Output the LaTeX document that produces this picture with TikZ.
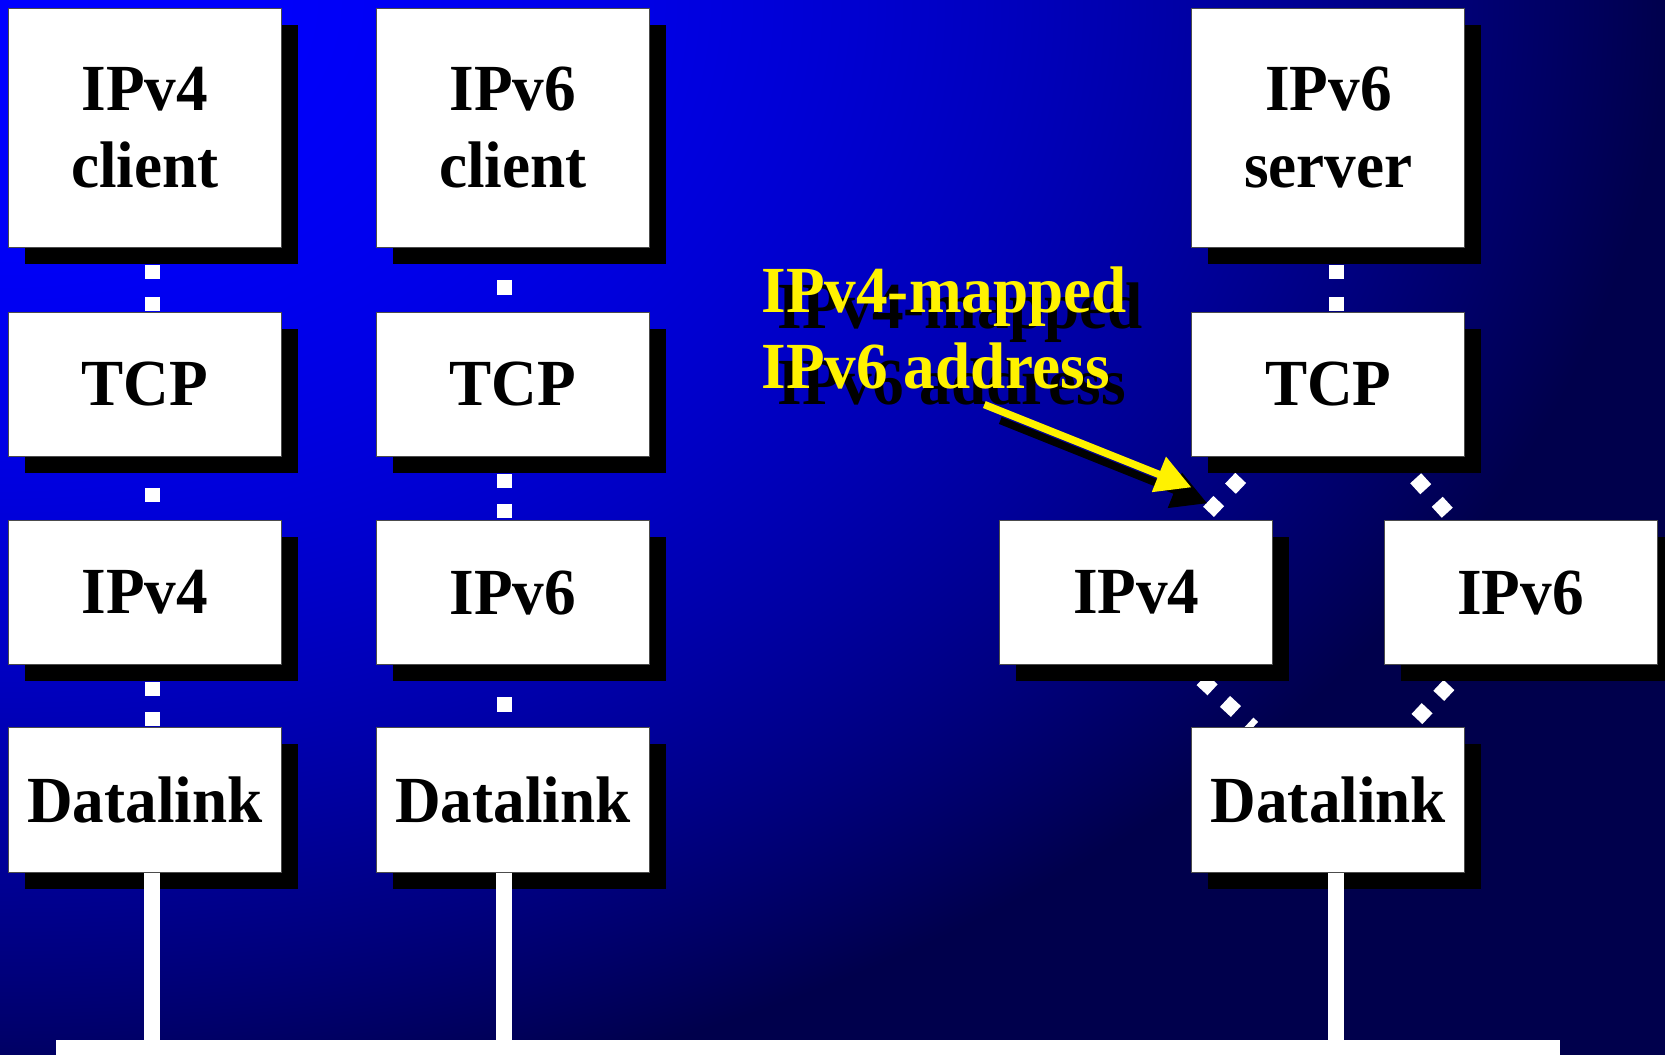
\documentclass[tikz,border=0pt]{standalone}
\usepackage{fontspec}
\setmainfont{Liberation Serif}[FakeStretch=0.96]
\usetikzlibrary{shadows,arrows.meta,calc,backgrounds}
\pgfdeclarefunctionalshading{bgshade}{\pgfpointorigin}{\pgfpoint{100bp}{100bp}}{}{
  75 exch sub 50 div dup mul 0.865 mul
  exch 25 sub 50 div dup mul add
  0.7 mul 1 exch sub
  dup 0.3 lt {pop 0.3} if
  dup 1 gt {pop 1} if
  0 0 3 -1 roll
}
\tikzset{
  layer/.style={draw=black!70, line width=1pt, fill=white, inner sep=0pt, align=center,
     font=\fontsize{62}{72.5}\selectfont\bfseries,
     drop shadow={shadow xshift=15.5pt, shadow yshift=-15.5pt, fill=black, opacity=1}},
  wide/.style={minimum width=257pt},
  tall/.style={minimum height=225pt},
  short/.style={minimum height=136pt},
  dots/.style={draw=white, line width=14pt},
  vline/.style={draw=white, line width=15pt},
  lbl/.style={font=\fontsize{62}{72.5}\selectfont\bfseries, inner sep=0pt, anchor=base west},
  pointer/.style={line width=7pt, -{Triangle[length=33pt,width=34pt]}},
}
\begin{document}
\begin{tikzpicture}[x=1pt, y=-1pt]
\useasboundingbox (0,0) rectangle (1568,993);
\begin{pgfonlayer}{background}
\shade[shading=bgshade] (0,0) rectangle (1568,993);
\end{pgfonlayer}

% left column
\node[layer,wide,tall]  (c1) at (136.5,120.5) {IPv4\\client};
\node[layer,wide,short] (t1) at (136.5,362) {TCP};
\node[layer,wide,short] (i1) at (136.5,558) {IPv4};
\node[layer,wide,short] (d1) at (136.5,753.5) {Datalink};
% middle column
\node[layer,wide,tall]  (c2) at (483,120.5) {IPv6\\client};
\node[layer,wide,short] (t2) at (483,362) {TCP};
\node[layer,wide,short] (i2) at (483,558) {IPv6};
\node[layer,wide,short] (d2) at (483,753.5) {Datalink};
% right stack
\node[layer,wide,tall]  (c3) at (1251,120.5) {IPv6\\server};
\node[layer,wide,short] (t3) at (1251,362) {TCP};
\node[layer,wide,short] (i3) at (1070,558) {IPv4};
\node[layer,wide,short] (i4) at (1432,558) {IPv6};
\node[layer,wide,short] (d3) at (1251,753.5) {Datalink};

% network bar
\node[fill=white, inner sep=0pt, minimum width=1416pt, minimum height=30pt, anchor=north west] (bar) at (53,979) {};
\draw[vline] ($(d1.south)+(7,0)$) coordinate (p1) -- (p1 |- bar.north);
\draw[vline] ($(d2.south)+(-8.5,0)$) coordinate (p2) -- (p2 |- bar.north);
\draw[vline] ($(d3.south)+(7.5,0)$) coordinate (p3) -- (p3 |- bar.north);

% dotted connectors
\begin{pgfonlayer}{background}
\draw[dots, dash pattern=on 13pt off 17pt, dash phase=14pt] ($(c1.south)+(7.5,0)$) -- ($(t1.north)+(7.5,0)$);
\draw[dots, dash pattern=on 13pt off 18pt, dash phase=2pt] ($(t1.south)+(7.5,0)$) -- ($(i1.north)+(7.5,0)$);
\draw[dots, dash pattern=on 13pt off 15pt, dash phase=12pt] ($(i1.south)+(7.5,0)$) -- ($(d1.north)+(7.5,0)$);
\draw[dots, dash pattern=on 14pt off 18pt, dash phase=2pt] ($(c2.south)+(-7.5,0)$) -- ($(t2.north)+(-7.5,0)$);
\draw[dots, dash pattern=on 13pt off 15pt, dash phase=12pt] ($(t2.south)+(-7.5,0)$) -- ($(i2.north)+(-7.5,0)$);
\draw[dots, dash pattern=on 14pt off 18pt, dash phase=2pt] ($(i2.south)+(-7.5,0)$) -- ($(d2.north)+(-7.5,0)$);
\draw[dots, dash pattern=on 13pt off 17pt, dash phase=14pt] ($(c3.south)+(8,0)$) -- ($(t3.north)+(8,0)$);
\draw[dots, dash pattern=on 14pt off 16pt, dash phase=3pt] ($(t3.south)+(-64,0)$) -- ($(i3.north)+(61,0)$);
\draw[dots, dash pattern=on 14pt off 16pt, dash phase=3pt] ($(t3.south)+(64,0)$) -- ($(i4.north)+(-63,0)$);
\draw[dots, dash pattern=on 14pt off 16pt, dash phase=10pt] ($(i3.south)+(47,0)$) -- ($(d3.north)+(-71,0)$);
\draw[dots, dash pattern=on 14pt off 16pt, dash phase=4.5pt] ($(i4.south)+(-50,0)$) -- ($(d3.north)+(76,0)$);
\end{pgfonlayer}

% label with shadow
\node[lbl, text=black]  (m1s) at (732,309) {IPv4-mapped};
\node[lbl, text=black]  (m2s) at (732,381) {IPv6 address};
\node[lbl, text=yellow] (m1) at (717,294) {IPv4-mapped};
\node[lbl, text=yellow] (m2) at (717,366) {IPv6 address};

\coordinate (atail) at (927,381);
\coordinate (ahead) at (1122,459);
\coordinate (atails) at (942,396);
\coordinate (aheads) at (1137,474);
\draw[pointer, black] (atails) -- (aheads);
\draw[pointer, yellow] (atail) -- (ahead);
\end{tikzpicture}
\end{document}
